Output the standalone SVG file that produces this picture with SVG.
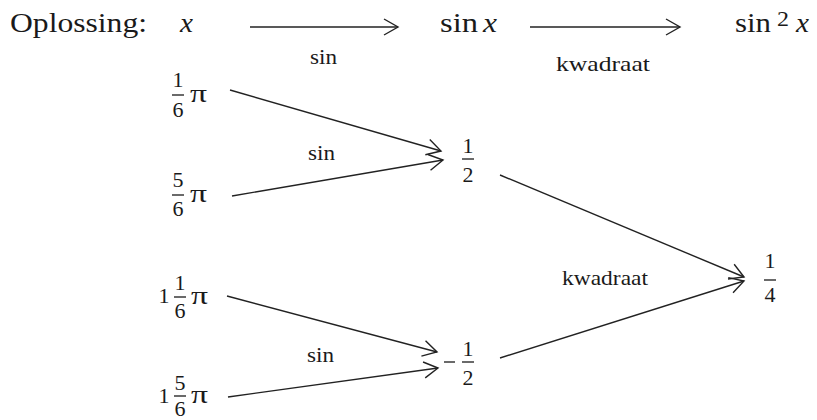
<svg xmlns="http://www.w3.org/2000/svg" width="817" height="420" viewBox="0 0 817 420" font-family="'Liberation Serif', 'Times New Roman', serif">
<defs>
<style>
text{font-family:'Liberation Serif','Times New Roman',serif;fill:#1a1a1a}
.h{font-size:28px}
.i{font-style:italic}
.lbl{font-size:21px}
.d{font-size:22px;text-anchor:middle}
.pi{font-size:26px}
.bar{stroke:#1a1a1a;stroke-width:1.3}
.c line{stroke:#222;stroke-width:1.4;fill:none;marker-end:url(#ah)}
</style>
<marker id="ah" markerUnits="userSpaceOnUse" markerWidth="20" markerHeight="20" viewBox="-16 -10 18 20" refX="0" refY="0" orient="auto">
<path d="M-14,-8 L0,0 L-14,8" fill="none" stroke="#222" stroke-width="1.4"/>
</marker>
</defs>
<rect width="817" height="420" fill="#fff"/>
<g id="header">
<text class="h" x="10" y="32" textLength="137" lengthAdjust="spacingAndGlyphs">Oplossing:</text>
<text class="h i" x="180" y="32" textLength="13" lengthAdjust="spacingAndGlyphs">x</text>
<text class="h" x="440" y="32" textLength="38" lengthAdjust="spacingAndGlyphs">sin</text>
<text class="h i" x="483" y="32" textLength="14" lengthAdjust="spacingAndGlyphs">x</text>
<text class="h" x="735" y="32" textLength="36" lengthAdjust="spacingAndGlyphs">sin</text>
<text x="777" y="26" style="font-size:22px" textLength="12" lengthAdjust="spacingAndGlyphs">2</text>
<text class="h i" x="796" y="32" textLength="13" lengthAdjust="spacingAndGlyphs">x</text>
<text class="lbl" x="310" y="64" textLength="27" lengthAdjust="spacingAndGlyphs">sin</text>
<text class="lbl" x="556" y="71" textLength="94" lengthAdjust="spacingAndGlyphs">kwadraat</text>
</g>
<g id="n16pi">
<text class="d" x="178" y="87">1</text>
<line class="bar" x1="172" y1="95" x2="184" y2="95"/>
<text class="d" x="178" y="117">6</text>
<text class="pi" x="190" y="102" textLength="17" lengthAdjust="spacingAndGlyphs">π</text>
</g>
<g id="n56pi">
<text class="d" x="178" y="187">5</text>
<line class="bar" x1="172" y1="195" x2="184" y2="195"/>
<text class="d" x="178" y="216">6</text>
<text class="pi" x="190" y="202" textLength="17" lengthAdjust="spacingAndGlyphs">π</text>
</g>
<g id="n116pi">
<text class="d" x="164" y="303">1</text>
<text class="d" x="180" y="290">1</text>
<line class="bar" x1="174" y1="297" x2="186" y2="297"/>
<text class="d" x="180" y="318">6</text>
<text class="pi" x="191" y="304" textLength="17" lengthAdjust="spacingAndGlyphs">π</text>
</g>
<g id="n156pi">
<text class="d" x="164" y="403">1</text>
<text class="d" x="180" y="390">5</text>
<line class="bar" x1="174" y1="396" x2="186" y2="396"/>
<text class="d" x="180" y="416">6</text>
<text class="pi" x="191" y="403" textLength="17" lengthAdjust="spacingAndGlyphs">π</text>
</g>
<g id="nhalf">
<text class="d" x="468" y="153">1</text>
<line class="bar" x1="462" y1="159" x2="474" y2="159"/>
<text class="d" x="468" y="182">2</text>
</g>
<g id="nminhalf">
<line class="bar" x1="444" y1="362" x2="455" y2="362"/>
<text class="d" x="468" y="356">1</text>
<line class="bar" x1="462" y1="362" x2="474" y2="362"/>
<text class="d" x="468" y="385">2</text>
</g>
<g id="nquarter">
<text class="d" x="770" y="268">1</text>
<line class="bar" x1="764" y1="280" x2="776" y2="280"/>
<text class="d" x="770" y="302">4</text>
</g>
<g id="labels">
<text class="lbl" x="308" y="160" textLength="27" lengthAdjust="spacingAndGlyphs">sin</text>
<text class="lbl" x="307" y="362" textLength="27" lengthAdjust="spacingAndGlyphs">sin</text>
<text class="lbl" x="562" y="285" textLength="86" lengthAdjust="spacingAndGlyphs">kwadraat</text>
</g>
<g id="connectors" class="c">
<line x1="250" y1="27" x2="398" y2="27"/>
<line x1="530" y1="27" x2="680" y2="27"/>
<line x1="230" y1="90" x2="441" y2="151"/>
<line x1="232" y1="196" x2="443" y2="160"/>
<line x1="227" y1="296" x2="437" y2="352"/>
<line x1="228" y1="397" x2="438" y2="368"/>
<line x1="500" y1="175" x2="744" y2="277"/>
<line x1="500" y1="358" x2="744" y2="281"/>
</g>
</svg>
